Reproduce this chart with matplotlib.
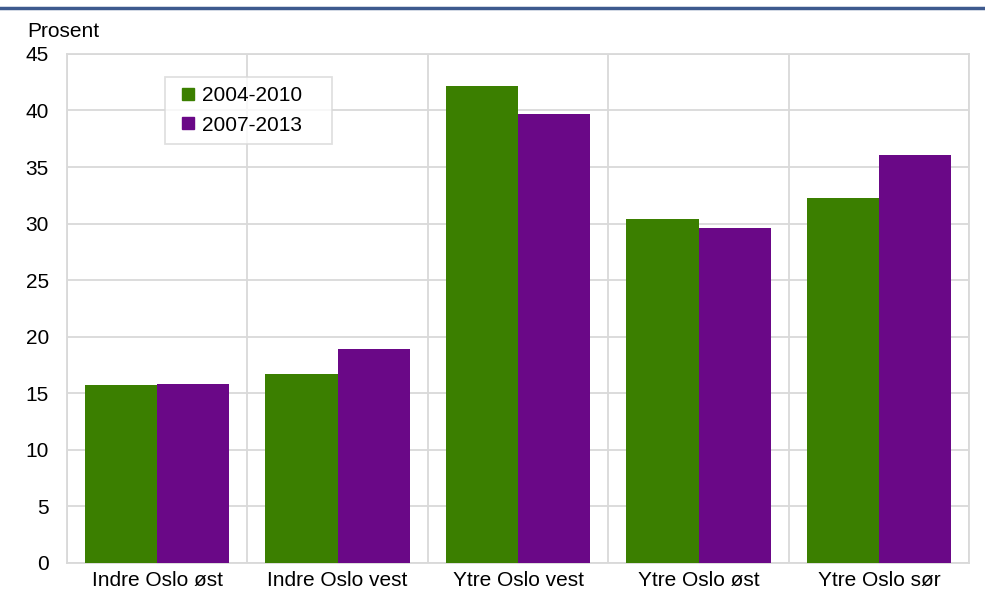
import matplotlib

matplotlib.use("Agg")
import matplotlib.pyplot as plt
import numpy as np
from matplotlib.lines import Line2D

plt.rcParams["font.family"] = ["Liberation Sans", "DejaVu Sans"]

categories = ["Indre Oslo øst", "Indre Oslo vest", "Ytre Oslo vest", "Ytre Oslo øst", "Ytre Oslo sør"]
series_names = ["2004-2010", "2007-2013"]
v_2004_2010 = [15.7, 16.7, 42.2, 30.4, 32.3]
v_2007_2013 = [15.8, 18.9, 39.7, 29.6, 36.1]
colors = ["#3b7f00", "#6a0887"]
grid_c = "#d9d9d9"
fs = 15

fig = plt.figure(figsize=(9.85, 5.92), dpi=100)
ax = fig.add_axes([0.068, 0.049, 0.916, 0.860])

x = np.arange(len(categories))
w = 0.4
ax.bar(x - w / 2, v_2004_2010, w, color=colors[0], label=series_names[0], zorder=3)
ax.bar(x + w / 2, v_2007_2013, w, color=colors[1], label=series_names[1], zorder=3)

ax.set_xlim(-0.5, len(categories) - 0.5)
ax.set_ylim(0, 45)
ax.set_yticks(range(0, 46, 5))
ax.set_xticks(x)
ax.set_xticklabels(categories, fontsize=fs)
ax.tick_params(axis="y", labelsize=fs, length=0, pad=13)
ax.tick_params(axis="x", length=0, pad=6)
ax.set_xticks(np.arange(-0.5, len(categories), 1), minor=True)
ax.tick_params(axis="x", which="minor", length=0)
ax.grid(axis="y", color=grid_c, lw=1.3, zorder=0)
ax.grid(axis="x", which="minor", color=grid_c, lw=1.3, zorder=0)
for s in ax.spines.values():
    s.set_color(grid_c)
    s.set_linewidth(1.3)

handles = [Line2D([], [], marker="s", ls="", color=c, markersize=8) for c in colors]
leg = ax.legend(handles, series_names, loc="upper left", bbox_to_anchor=(0.109, 0.5, 0.185, 0.455),
                mode="expand", borderaxespad=0, fontsize=fs, frameon=True, fancybox=False,
                handletextpad=0.0, handlelength=1.3, borderpad=0.45, labelspacing=0.5)
leg.get_frame().set_edgecolor(grid_c)
leg.get_frame().set_linewidth(1.3)

fig.text(0.028, 0.937, "Prosent", fontsize=fs)
fig.add_artist(Line2D([0, 1], [0.986, 0.986], color="#3e5a8e", lw=2.5, transform=fig.transFigure))

fig.savefig("out.png", dpi=100)
